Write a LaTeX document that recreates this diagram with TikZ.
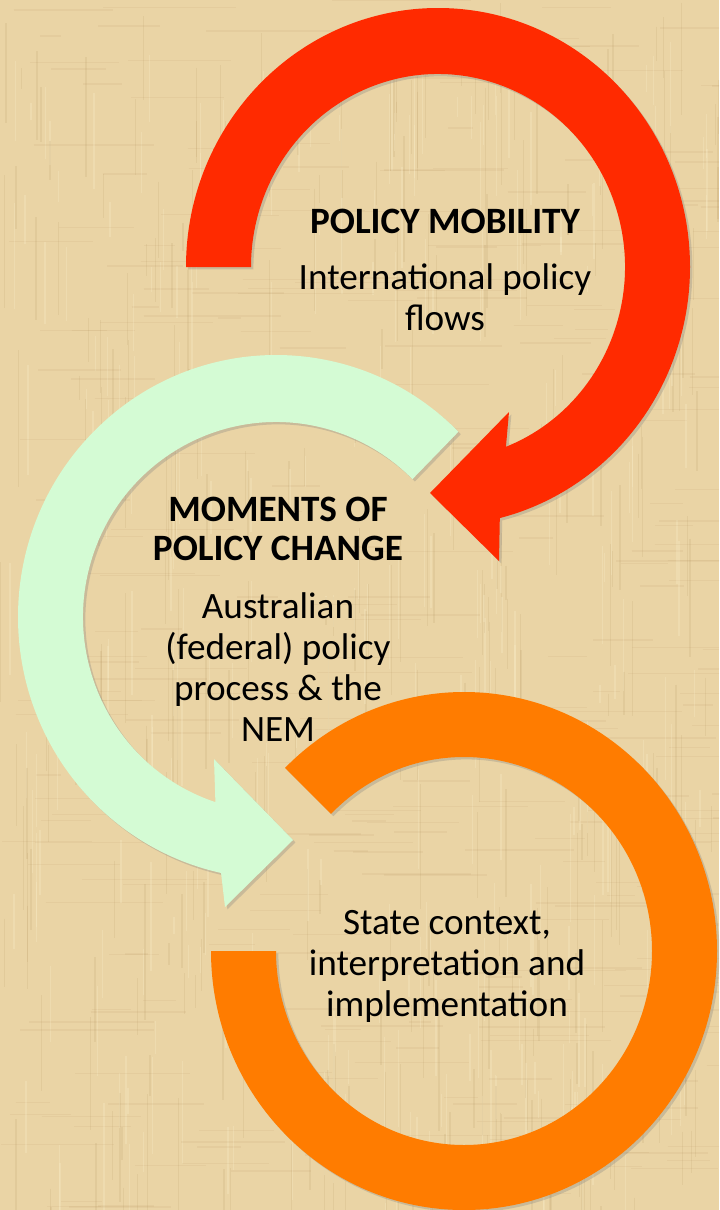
\documentclass[tikz,border=0pt]{standalone}
\usepackage{fontspec}
\setmainfont{Carlito}
\usetikzlibrary{shadows}

\definecolor{papyrus}{RGB}{234,212,165}
\definecolor{fibre}{RGB}{168,132,78}
\definecolor{pale}{RGB}{250,236,200}
\definecolor{mobred}{RGB}{255,42,0}
\definecolor{changegreen}{RGB}{212,251,212}
\definecolor{stateorange}{RGB}{255,124,0}

\begin{document}
\begin{tikzpicture}[x=0.5pt, y=-0.5pt,
        band/.style={drop shadow={opacity=0.3, shadow xshift=1.2pt, shadow yshift=-1.2pt}},
        heading/.style={font=\bfseries\fontsize{18.6}{19.5}\selectfont, align=center},
        body/.style={font=\fontsize{18.6}{20.5}\selectfont, align=center}
    ]
\useasboundingbox (0,0) rectangle (719,1210);
\clip (0,0) rectangle (719,1210);

% papyrus background, woven fibres
\fill[papyrus] (0,0) rectangle (719,1210);
\pgfmathsetseed{17}
\foreach \i in {1,...,320}{
    \pgfmathsetmacro{\fx}{719*rnd}
    \pgfmathsetmacro{\fy}{1210*rnd}
    \pgfmathsetmacro{\fl}{20+120*rnd}
    \pgfmathsetmacro{\fw}{0.2+0.8*rnd}
    \draw[fibre, opacity=0.12, line width=\fw pt] (\fx,\fy) -- ++(0,\fl);
    \draw[fibre, opacity=0.09, line width=\fw pt] (\fy*0.59,\fx*1.68) -- ++(\fl,0);
    \draw[pale, opacity=0.3, line width=\fw pt] (\fx*0.97+10,\fy*0.93+40) -- ++(0,\fl*0.8);
}

% ring centres
\coordinate (mobc) at (438,267);
\coordinate (chgc) at (276,617);
\coordinate (stac) at (464,951);

% policy mobility arrow
\fill[mobred, band] ([shift={(180:252 and 259)}]mobc)
    arc[start angle=180, end angle=435.8, x radius=252, y radius=259]
    -- (499,561) -- (430,493) -- (509,412)
    -- ([shift={(428.7:187 and 193)}]mobc)
    arc[start angle=428.7, end angle=180, x radius=187, y radius=193] -- cycle;

% policy change arrow
\fill[changegreen, band] ([shift={(-45:258 and 262)}]chgc)
    arc[start angle=-45, end angle=-257.7, x radius=258, y radius=262]
    -- (225,907) -- (293,840) -- (214,759)
    -- ([shift={(-251.7:193 and 195)}]chgc)
    arc[start angle=-251.7, end angle=-45, x radius=193, y radius=195] -- cycle;

% state ring
\fill[stateorange, band] ([shift={(180:253 and 259)}]stac)
    arc[start angle=180, end angle=-135, x radius=253, y radius=259]
    -- ([shift={(-135:188 and 194)}]stac)
    arc[start angle=-135, end angle=180, x radius=188, y radius=194] -- cycle;

\node[heading] (mobtitle) at (445,221) {POLICY MOBILITY};
\node[body] (mobtext) at (445,297) {International policy\\flows};

\node[heading] (chgtitle) at (278,529) {MOMENTS OF\\POLICY CHANGE};
\node[body] (chgtext) at (278,667) {Australian\\(federal) policy\\process \& the\\NEM};

\node[body] (statetext) at (447,966) {State context,\\interpretation and\\implementation};

\end{tikzpicture}
\end{document}
